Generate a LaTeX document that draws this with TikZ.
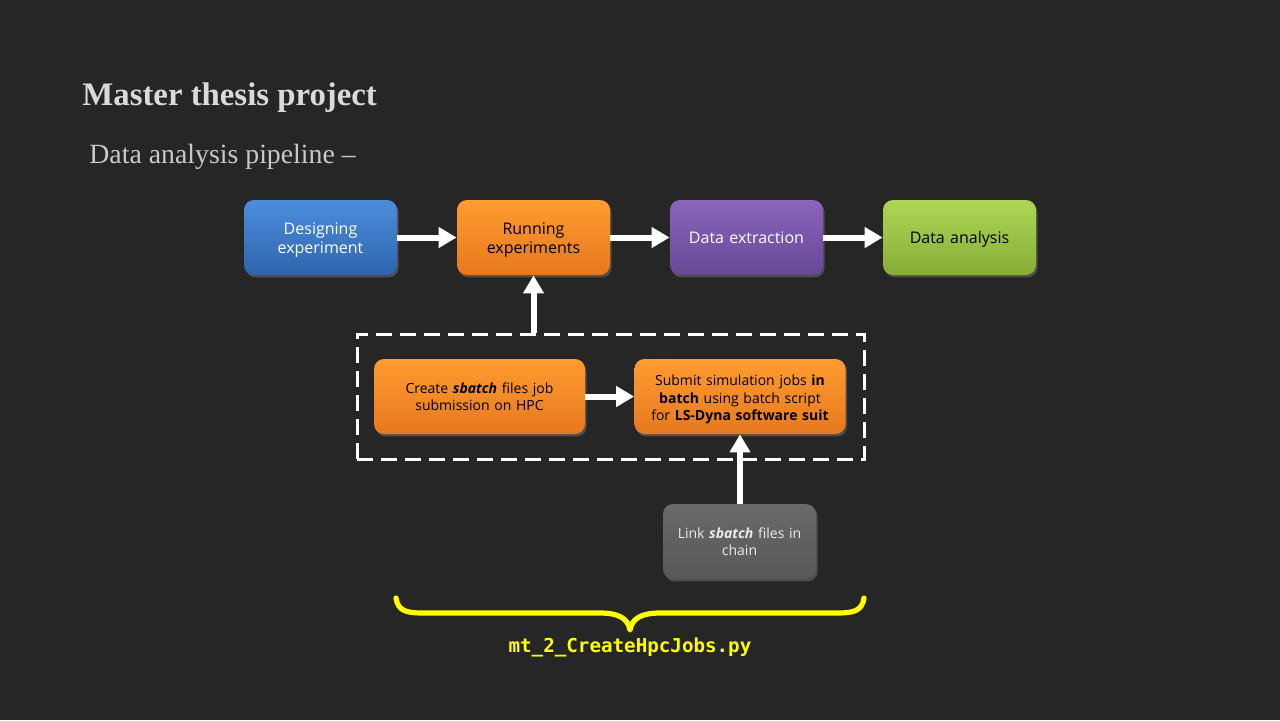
\documentclass[tikz,border=0pt]{standalone}
\usepackage{fontspec}
\setmainfont{Liberation Serif}
\newfontfamily\boxfont{Open Sans}
\newfontfamily\codefont{DejaVu Sans Mono}
\usetikzlibrary{arrows.meta,shadows}
\definecolor{bg}{HTML}{262626}
\definecolor{titlecol}{HTML}{DADADA}
\definecolor{bluetop}{HTML}{4C8EDC}
\definecolor{bluebot}{HTML}{2E64AE}
\definecolor{orgtop}{HTML}{FF9C30}
\definecolor{orgbot}{HTML}{E6781E}
\definecolor{purtop}{HTML}{8C64BC}
\definecolor{purbot}{HTML}{664896}
\definecolor{grntop}{HTML}{AED656}
\definecolor{grnbot}{HTML}{86AE36}
\definecolor{graytop}{HTML}{6A6A6A}
\definecolor{graybot}{HTML}{585858}
\definecolor{ylw}{HTML}{FFFF00}
\tikzset{
  procbox/.style={rounded corners=5pt, minimum height=37.5pt, inner sep=1pt, align=center,
    font=\boxfont\fontsize{8}{9.5}\selectfont,
    drop shadow={opacity=0.45, shadow xshift=0.8pt, shadow yshift=-1.2pt}},
  lowered/.style={execute at end node={\par\vspace{-3pt}}},
  bigbox/.style={procbox, minimum width=76.5pt, text width=72pt},
  smallbox/.style={procbox, minimum width=105.5pt, text width=100pt,
    font=\boxfont\fontsize{7}{8.6}\selectfont},
  bluebox/.style={top color=bluetop, bottom color=bluebot, text=white},
  orgbox/.style={top color=orgtop, bottom color=orgbot, text=black},
  purbox/.style={top color=purtop, bottom color=purbot, text=white},
  grnbox/.style={top color=grntop, bottom color=grnbot, text=black},
  graybox/.style={top color=graytop, bottom color=graybot, text=white!92!black},
  flow/.style={draw=white, line width=3pt, -{Triangle[length=9pt,width=10pt]}},
  groupbox/.style={draw=white, line width=1.5pt, dash pattern=on 8pt off 4pt,
    minimum width=253.5pt, minimum height=62.5pt, inner sep=0pt}
}
\begin{document}
\begin{tikzpicture}[x=0.5pt,y=-0.5pt]
\fill[bg] (0,0) rectangle (1280,720);
\useasboundingbox (0,0) rectangle (1280,720);
% titles
\node[anchor=base west, inner sep=0pt, text=titlecol, font=\fontsize{16.4}{19}\selectfont\bfseries] (title) at (82,105) {Master thesis project};
\node[anchor=base west, inner sep=0pt, text=titlecol!92!black, font=\fontsize{13.9}{16}\selectfont] (sub) at (89,163) {Data analysis pipeline --};
% top pipeline
\node[bigbox, bluebox, lowered] (des) at (320.5,237.5) {Designing\\experiment};
\node[bigbox, orgbox, lowered] (run) at (533.5,237.5) {Running\\experiments};
\node[bigbox, purbox, lowered] (ext) at (746.5,237.5) {Data extraction};
\node[bigbox, grnbox, lowered] (ana) at (959.5,237.5) {Data analysis};
\draw[flow] (des) -- (run);
\draw[flow] (run) -- (ext);
\draw[flow] (ext) -- (ana);
% group
\node[groupbox] (grp) at (610.5,396.5) {};
\node[smallbox, orgbox] (cre) at (479.5,396.5) {Create \textbf{\textit{sbatch}} files job\\submission on HPC};
\node[smallbox, orgbox, lowered] (sub2) at (740,396.5) {Submit simulation jobs \textbf{in}\\\textbf{batch} using batch script\\for \textbf{LS-Dyna software suit}};
\draw[flow] (cre) -- (sub2);
\draw[flow] (grp.north -| run.south) -- (run.south);
% link
\node[bigbox, graybox, font=\boxfont\fontsize{7}{8.6}\selectfont] (lnk) at (739.5,541.5) {Link \textbf{\textit{sbatch}} files in\\chain};
\draw[flow] (lnk.north -| sub2.south) -- (sub2.south);
% brace
\coordinate (bl) at (396,598);
\coordinate (br) at (864,598);
\coordinate (tip) at (630,630);
\draw[ylw, line width=2.6pt, line cap=round, line join=round]
  (bl) .. controls (398,612) and (408,613) .. (425,613) -- (600,613)
  .. controls (618,613) and (628,618) .. (tip)
  .. controls (632,618) and (642,613) .. (660,613) -- (835,613)
  .. controls (852,613) and (862,612) .. (br);
\node[text=ylw, font=\codefont\bfseries\fontsize{9.6}{11}\selectfont, inner sep=0pt] (code) at (630,647) {mt\_2\_CreateHpcJobs.py};
\end{tikzpicture}
\end{document}
